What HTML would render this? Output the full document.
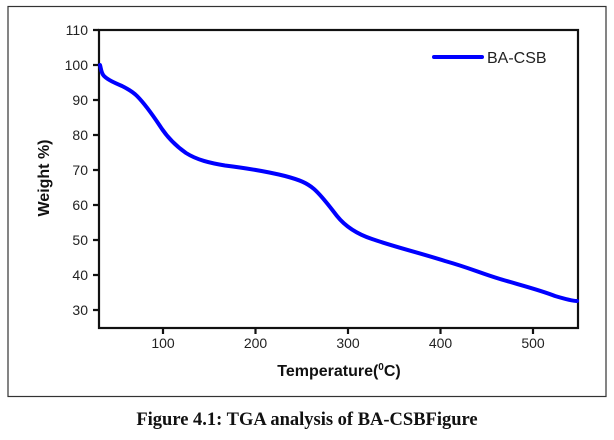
<!DOCTYPE html>
<html><head><meta charset="utf-8"><style>
html,body{margin:0;padding:0;background:#fff;width:614px;height:440px;overflow:hidden}
</style></head><body>
<svg width="614" height="440" xmlns="http://www.w3.org/2000/svg">
<rect x="8" y="6.5" width="598" height="390" fill="none" stroke="#333" stroke-width="1.2"/>
<g stroke="#111" stroke-width="2.2" fill="none">
<rect x="99" y="30" width="479" height="298"/>
<path d="M93 30H99M93 65H99M93 100H99M93 135H99M93 170H99M93 205H99M93 240H99M93 275H99M93 310H99"/>
<path d="M163 328V334M255.5 328V334M348 328V334M440.5 328V334M533 328V334"/>
</g>
<g font-family="Liberation Sans, sans-serif" font-size="14" fill="#222" text-anchor="end">
<text x="88" y="35">110</text><text x="88" y="70">100</text><text x="88" y="105">90</text><text x="88" y="140">80</text><text x="88" y="175">70</text><text x="88" y="210">60</text><text x="88" y="245">50</text><text x="88" y="280">40</text><text x="88" y="315">30</text>
</g>
<g font-family="Liberation Sans, sans-serif" font-size="14" fill="#222" text-anchor="middle">
<text x="163" y="348">100</text><text x="255.5" y="348">200</text><text x="348" y="348">300</text><text x="440.5" y="348">400</text><text x="533" y="348">500</text>
</g>
<text x="339" y="376" font-family="Liberation Sans, sans-serif" font-size="16" font-weight="bold" text-anchor="middle" fill="#111">Temperature(<tspan font-size="10" dy="-6">0</tspan><tspan dy="6">C)</tspan></text>
<text transform="translate(49,178) rotate(-90)" font-family="Liberation Sans, sans-serif" font-size="16" font-weight="bold" text-anchor="middle" fill="#111">Weight %)</text>
<path d="M100 65 C101 68 101 73 104 76 C108 80 115 83 122 86 C128 89 133 92 137 96 C145 104 152 114 160 126 C167 137 176 146 186 153 C197 160 210 163 225 165.5 C245 168 265 171 285 176 C300 180 307 183 314 189 C322 196 330 207 337 216 C345 226 357 234 372 239 C395 247 420 253 445 261 C470 268 480 273 500 279 C520 285 540 290 555 296 C565 299 572 301 577 301" fill="none" stroke="#0000ff" stroke-width="4" stroke-linejoin="round" stroke-linecap="round"/>
<line x1="434" y1="57" x2="482" y2="57" stroke="#0000ff" stroke-width="4" stroke-linecap="round"/>
<text x="487" y="63" font-family="Liberation Sans, sans-serif" font-size="16" fill="#222">BA-CSB</text>
<text x="307" y="425" font-family="Liberation Serif, serif" font-size="18.5" font-weight="bold" text-anchor="middle" fill="#111">Figure 4.1: TGA analysis of BA-CSBFigure</text>
</svg>
</body></html>
